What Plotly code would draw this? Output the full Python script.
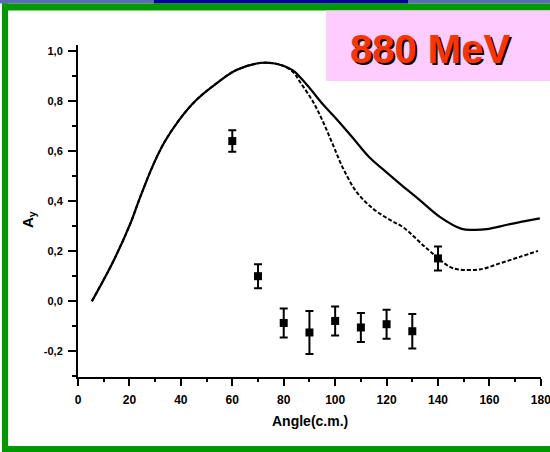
import plotly.graph_objects as go

# ---- data ----
theory1_angle = [5.4, 13.6, 20.1, 24, 29.2, 33.7, 39.6, 46.1, 53.9, 61.6, 70.7, 75.9, 80, 83.7,
                 88.9, 95.3, 100.5, 107, 113.5, 120, 126.5, 132.9, 140.7, 149.2, 154, 158.9, 168, 179.6]
theory1_ay = [0.0, 0.157, 0.304, 0.411, 0.544, 0.637, 0.728, 0.805, 0.871, 0.924, 0.952, 0.951, 0.94, 0.922,
              0.866, 0.786, 0.728, 0.651, 0.573, 0.515, 0.458, 0.404, 0.337, 0.289, 0.285, 0.288, 0.308, 0.331]

theory2_angle = [5.4, 13.6, 20.1, 24, 29.2, 33.7, 39.6, 46.1, 53.9, 61.6, 70.7, 75.9, 80, 83.7,
                 86.3, 91.4, 95.3, 99.2, 103.1, 108.3, 114.8, 121.3, 126.5, 135.6, 144.6, 147.9,
                 156.3, 164, 171.8, 178.9]
theory2_ay = [0.0, 0.157, 0.304, 0.411, 0.544, 0.637, 0.728, 0.805, 0.871, 0.924, 0.952, 0.951, 0.94, 0.915,
              0.877, 0.797, 0.717, 0.624, 0.531, 0.437, 0.369, 0.325, 0.295, 0.211, 0.137, 0.127,
              0.127, 0.151, 0.177, 0.201]

exp_angle = [60, 70, 80, 90, 100, 110, 120, 130, 140]
exp_ay = [0.64, 0.10, -0.087, -0.125, -0.079, -0.105, -0.092, -0.12, 0.171]
exp_err = [0.043, 0.048, 0.058, 0.086, 0.058, 0.058, 0.058, 0.069, 0.048]

x_tickvals = [0, 20, 40, 60, 80, 100, 120, 140, 160, 180]
x_ticktext = ["0", "20", "40", "60", "80", "100", "120", "140", "160", "180"]
y_tickvals = [-0.2, 0.0, 0.2, 0.4, 0.6, 0.8, 1.0]
y_ticktext = ["-0,2", "0,0", "0,2", "0,4", "0,6", "0,8", "1,0"]

energy_label = "880 MeV"

# ---- layout geometry (pixels) ----
W, H = 550, 452
L, R, T, B = 78, 9, 45, 75
PW, PH = W - L - R, H - T - B


def px(x):
    return (x - L) / PW


def py(y):
    return (H - B - y) / PH


fig = go.Figure()

fig.add_trace(go.Scatter(x=theory2_angle, y=theory2_ay, mode="lines",
                         line=dict(color="black", width=2, dash="4px,2px", shape="spline", smoothing=1.0),
                         showlegend=False, hoverinfo="skip"))
fig.add_trace(go.Scatter(x=theory1_angle, y=theory1_ay, mode="lines",
                         line=dict(color="black", width=2.2, shape="spline", smoothing=1.0),
                         showlegend=False, hoverinfo="skip"))
fig.add_trace(go.Scatter(x=exp_angle, y=exp_ay, mode="markers",
                         marker=dict(symbol="square", size=8, color="black"),
                         error_y=dict(type="data", array=exp_err, visible=True,
                                      color="black", thickness=2, width=4),
                         showlegend=False))

axis_font = dict(family="Liberation Sans, Arial, sans-serif", size=12, color="black", weight="bold")

fig.update_xaxes(range=[0, 180.05], tickmode="array", tickvals=x_tickvals, ticktext=x_ticktext,
                 showgrid=False, zeroline=False, showline=True, linecolor="black", linewidth=2,
                 ticks="outside", ticklen=7, tickwidth=2, tickcolor="black", automargin=False,
                 tickfont=axis_font, ticklabelstandoff=4, ticklabeloverflow="allow",
                 minor=dict(tickmode="linear", tick0=10, dtick=20, ticks="outside",
                            ticklen=3, tickwidth=2, tickcolor="black", showgrid=False))
fig.update_yaxes(range=[-0.303, 1.024], tickmode="array", tickvals=y_tickvals, ticktext=y_ticktext,
                 showgrid=False, zeroline=False, showline=True, linecolor="black", linewidth=2,
                 ticks="outside", ticklen=8, tickwidth=2, tickcolor="black", automargin=False,
                 tickfont=dict(axis_font, size=11), ticklabelstandoff=3,
                 minor=dict(tickmode="linear", tick0=-0.1, dtick=0.2, ticks="outside",
                            ticklen=4, tickwidth=2, tickcolor="black", showgrid=False))

shapes = []


def rect(x0, y0, x1, y1, color):
    shapes.append(dict(type="rect", xref="paper", yref="paper",
                       x0=px(x0), x1=px(x1), y0=py(y1), y1=py(y0),
                       fillcolor=color, line=dict(width=0), layer="above"))


rect(0, 0, 550, 3.5, "#5b6bb5")
rect(154, 0, 408, 3.5, "#000099")
rect(2, 3.5, 550, 10.5, "#009900")
rect(2, 3.5, 8, 452, "#009900")
rect(2, 446, 550, 452, "#009900")
rect(326, 10.5, 550, 81, "#FFCCFF")

annotations = [
    dict(text="<b>%s</b>" % energy_label, x=px(431.8), y=py(50.8), xref="paper", yref="paper",
         showarrow=False, xanchor="center", yanchor="middle",
         font=dict(family="Liberation Sans, Arial, sans-serif", size=40, color="black")),
    dict(text="<b>%s</b>" % energy_label, x=px(430), y=py(49), xref="paper", yref="paper",
         showarrow=False, xanchor="center", yanchor="middle",
         font=dict(family="Liberation Sans, Arial, sans-serif", size=40, color="#FF3300")),
    dict(text="<b>A<sub>y</sub></b>", x=px(28), y=py(220), xref="paper", yref="paper",
         showarrow=False, xanchor="center", yanchor="middle", textangle=-90,
         font=dict(family="Liberation Sans, Arial, sans-serif", size=15, color="black")),
    dict(text="<b>Angle(c.m.)</b>", x=px(310), y=py(421), xref="paper", yref="paper",
         showarrow=False, xanchor="center", yanchor="middle",
         font=dict(family="Liberation Sans, Arial, sans-serif", size=14, color="black")),
]

fig.update_layout(width=W, height=H, margin=dict(l=L, r=R, t=T, b=B, pad=0),
                  paper_bgcolor="white", plot_bgcolor="white",
                  shapes=shapes, annotations=annotations, showlegend=False)

fig.write_html("out.html")
